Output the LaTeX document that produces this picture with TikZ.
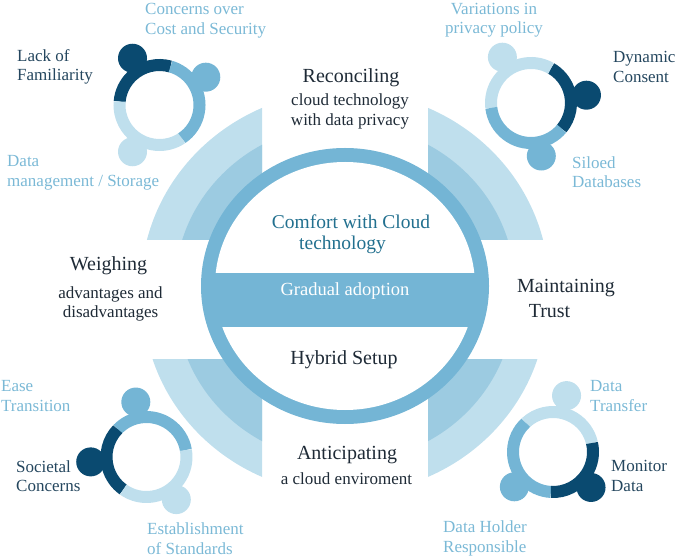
\documentclass[tikz,border=0pt]{standalone}
\usepackage{fontspec}
\setmainfont{Liberation Serif}
\definecolor{lightc}{HTML}{BFDFED}
\definecolor{midc}{HTML}{9CCBE1}
\definecolor{ringc}{HTML}{74B5D5}
\definecolor{darkc}{HTML}{0A4A70}
\definecolor{lbltxt}{HTML}{7BB9D6}
\definecolor{darktxt}{HTML}{24465E}
\definecolor{titletxt}{HTML}{1E2A36}
\definecolor{tealtxt}{HTML}{22708F}
\tikzset{
  lbl/.style={inner sep=0pt, align=left, anchor=west, font=\fontsize{17}{19.5}\selectfont},
  lightlbl/.style={lbl, text=lbltxt},
  darklbl/.style={lbl, text=darktxt},
  title/.style={inner sep=0pt, text=titletxt, font=\fontsize{20}{22}\selectfont},
  subtitle/.style={inner sep=0pt, text=titletxt, font=\fontsize{17}{19.5}\selectfont},
  seg/.style={line width=12pt},
}
\begin{document}
\begin{tikzpicture}[x=1pt,y=1pt]
\useasboundingbox (0,0) rectangle (676,557);
% fans
\begin{scope}
  \clip (0,317) rectangle (262,557);
  \fill[lightc] (345,270) ellipse[x radius=204, y radius=196];
  \fill[midc] (345,270) ellipse[x radius=170, y radius=163];
\end{scope}
\begin{scope}
  \clip (428,317) rectangle (676,557);
  \fill[lightc] (345,270) ellipse[x radius=204, y radius=196];
  \fill[midc] (345,270) ellipse[x radius=170, y radius=163];
\end{scope}
\begin{scope}
  \clip (0,0) rectangle (262,198);
  \fill[lightc] (345,257) ellipse[x radius=202, y radius=194];
  \fill[midc] (345,257) ellipse[x radius=169, y radius=162];
\end{scope}
\begin{scope}
  \clip (428,0) rectangle (676,198);
  \fill[lightc] (345,257) ellipse[x radius=202, y radius=194];
  \fill[midc] (345,257) ellipse[x radius=169, y radius=162];
\end{scope}
% central ring
\fill[ringc] (345,271) ellipse[x radius=144, y radius=138];
\fill[white] (345,271) ellipse[x radius=130, y radius=124];
\begin{scope}
  \clip (345,271) ellipse[x radius=131, y radius=125];
  \fill[ringc] (200,230) rectangle (490,284);
\end{scope}
% small rings: centre, segments (radius 40 = mid of 34..46)
% top-left
\coordinate (tl) at (159.5,452);
\draw[seg,darkc] ([shift={(74:40)}]tl) arc[start angle=74, end angle=175, radius=40];
\draw[seg,lightc] ([shift={(175:40)}]tl) arc[start angle=175, end angle=304, radius=40];
\draw[seg,ringc] ([shift={(-56:40)}]tl) arc[start angle=-56, end angle=74, radius=40];
\fill[darkc] ([shift={(120:54)}]tl) circle[radius=14.5];
\fill[ringc] ([shift={(31:54)}]tl) circle[radius=14.5];
\fill[lightc] ([shift={(-120:54)}]tl) circle[radius=14.5];
% top-right
\coordinate (tr) at (531,454);
\draw[seg,darkc] ([shift={(-40:40)}]tr) arc[start angle=-40, end angle=60, radius=40];
\draw[seg,lightc] ([shift={(60:40)}]tr) arc[start angle=60, end angle=187, radius=40];
\draw[seg,ringc] ([shift={(187:40)}]tr) arc[start angle=187, end angle=320, radius=40];
\fill[lightc] ([shift={(122:54)}]tr) circle[radius=14.5];
\fill[darkc] ([shift={(8:56)}]tr) circle[radius=14.5];
\fill[ringc] ([shift={(-79:54)}]tr) circle[radius=14.5];
% bottom-left
\coordinate (bl) at (146.5,100);
\draw[seg,ringc] ([shift={(10:40)}]bl) arc[start angle=10, end angle=136, radius=40];
\draw[seg,darkc] ([shift={(136:40)}]bl) arc[start angle=136, end angle=234.5, radius=40];
\draw[seg,lightc] ([shift={(234.5:40)}]bl) arc[start angle=234.5, end angle=370, radius=40];
\fill[ringc] ([shift={(101:56)}]bl) circle[radius=14.5];
\fill[darkc] ([shift={(185:56)}]bl) circle[radius=14.5];
\fill[lightc] ([shift={(-55:52)}]bl) circle[radius=14.5];
% bottom-right
\coordinate (br) at (553,105);
\draw[seg,lightc] ([shift={(13:40)}]br) arc[start angle=13, end angle=133, radius=40];
\draw[seg,ringc] ([shift={(133:40)}]br) arc[start angle=133, end angle=267, radius=40];
\draw[seg,darkc] ([shift={(267:40)}]br) arc[start angle=267, end angle=373, radius=40];
\fill[lightc] ([shift={(76.5:58)}]br) circle[radius=14.5];
\fill[ringc] ([shift={(222:52)}]br) circle[radius=14.5];
\fill[darkc] ([shift={(-43:52)}]br) circle[radius=14.5];
% central texts
\node[inner sep=0pt, text=tealtxt, font=\fontsize{19.5}{22}\selectfont] (comfort) at (351,335) {Comfort with Cloud};
\node[inner sep=0pt, text=tealtxt, font=\fontsize{19.5}{22}\selectfont] (comfort2) at (342.5,312) {technology};
\node[inner sep=0pt, text=white, font=\fontsize{18.5}{21}\selectfont] (gradual) at (345,266) {Gradual adoption};
\node[title] (hybrid) at (344,197) {Hybrid Setup};
% quadrant titles
\node[title] (reconc) at (351,479) {Reconciling};
\node[subtitle] (reconc2) at (350,456) {cloud technology};
\node[subtitle] (reconc3) at (350,436) {with data privacy};
\node[title] (weigh) at (108.5,291) {Weighing};
\node[subtitle] (weigh2) at (110.5,263) {advantages and};
\node[subtitle] (weigh3) at (110.5,244) {disadvantages};
\node[title] (maint) at (566,269) {Maintaining};
\node[title] (maint2) at (549.5,246) {Trust};
\node[title] (antic) at (347,102) {Anticipating};
\node[subtitle] (antic2) at (346.5,78) {a cloud enviroment};
% ring labels
\node[lightlbl] (cost) at (145,536.5) {Concerns over\\Cost and Security};
\node[darklbl] (lack) at (17,490) {Lack of\\Familiarity};
\node[lightlbl] (datam) at (7,384) {Data\\management / Storage};
\node[lightlbl, align=center, anchor=center] (var) at (494,537) {Variations in\\privacy policy};
\node[darklbl] (dyn) at (613,490) {Dynamic\\Consent};
\node[lightlbl] (silo) at (572,385) {Siloed\\Databases};
\node[lightlbl] (ease) at (1,161) {Ease\\Transition};
\node[darklbl] (soc) at (16,81) {Societal\\Concerns};
\node[lightlbl] (estab) at (147,18.5) {Establishment\\of Standards};
\node[lightlbl] (transf) at (590,161) {Data\\Transfer};
\node[darklbl] (monit) at (611,81) {Monitor\\Data};
\node[lightlbl] (holder) at (443,18.5) {Data Holder\\Responsible};
\end{tikzpicture}
\end{document}
